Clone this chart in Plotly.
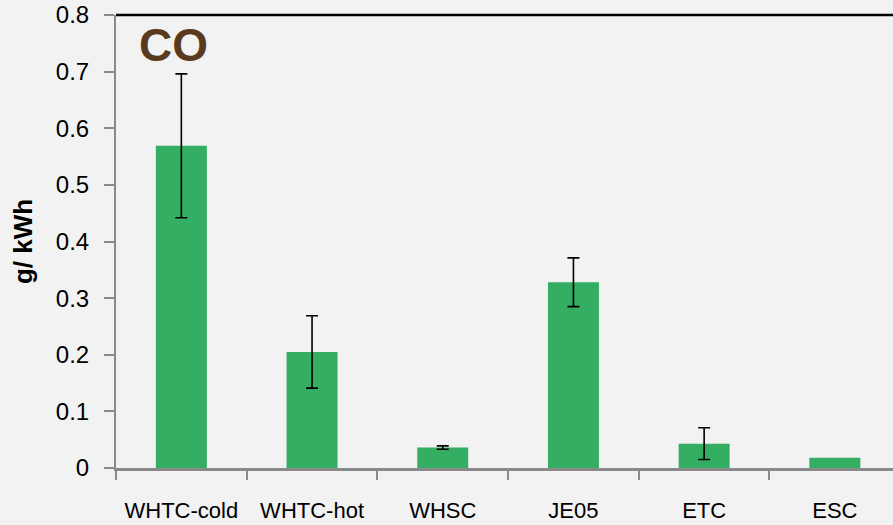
import plotly.graph_objects as go

# CO emissions per test cycle
cycles = ["WHTC-cold", "WHTC-hot", "WHSC", "JE05", "ETC", "ESC"]
co_g_kwh = [0.569, 0.205, 0.036, 0.328, 0.043, 0.018]
# spread between repeated runs (ESC was measured once)
err_cycles = ["WHTC-cold", "WHTC-hot", "WHSC", "JE05", "ETC"]
err_means = [0.569, 0.205, 0.036, 0.328, 0.043]
co_err = [0.127, 0.064, 0.003, 0.043, 0.028]

font_main = "Liberation Sans, Arial, sans-serif"

fig = go.Figure()
fig.add_trace(go.Bar(
    x=cycles,
    y=co_g_kwh,
    marker=dict(color="#33ae62", line=dict(width=0)),
    width=0.39,
))
fig.add_trace(go.Scatter(
    x=err_cycles,
    y=err_means,
    mode="markers",
    marker=dict(size=0.1, color="rgba(0,0,0,0)"),
    error_y=dict(type="data", array=co_err, visible=True,
                 color="black", thickness=1.6, width=6),
    hoverinfo="skip",
))

fig.update_layout(
    width=893, height=525,
    margin=dict(l=116, r=0, t=15, b=57),
    paper_bgcolor="#f2f2f2",
    plot_bgcolor="#f2f2f2",
    showlegend=False,
    font=dict(family=font_main, size=19, color="black"),
)

fig.update_xaxes(
    type="category",
    range=[-0.5, 5.445],
    showline=True, linecolor="#898989", linewidth=3,
    ticks="outside", tickson="boundaries", ticklen=9, tickwidth=2, tickcolor="#898989",
    tickfont=dict(family=font_main, size=22),
    ticklabelstandoff=21,
    showgrid=False, zeroline=False,
)

fig.update_yaxes(
    range=[0, 0.8],
    tickvals=[0, 0.1, 0.2, 0.3, 0.4, 0.5, 0.6, 0.7, 0.8],
    ticktext=["0", "0.1", "0.2", "0.3", "0.4", "0.5", "0.6", "0.7", "0.8"],
    showline=True, linecolor="#898989", linewidth=2,
    ticks="outside", ticklen=10, tickwidth=2, tickcolor="#898989",
    tickfont=dict(family=font_main, size=24),
    ticklabelstandoff=10,
    showgrid=False, zeroline=False,
    title_text="<b>g/ kWh</b>",
    title_font=dict(family=font_main, size=26, color="black"),
    title_standoff=16,
)

# black rule along the top of the plot area
fig.add_shape(type="line", xref="paper", yref="paper",
              x0=0, x1=1, y0=1, y1=1,
              line=dict(color="black", width=2.5))

fig.add_annotation(
    text="<b>CO</b>", xref="paper", yref="paper",
    x=0.027, y=0.996, xanchor="left", yanchor="top",
    showarrow=False,
    font=dict(size=46, color="#5a3a1e", family=font_main),
)

fig.write_html("out.html")
